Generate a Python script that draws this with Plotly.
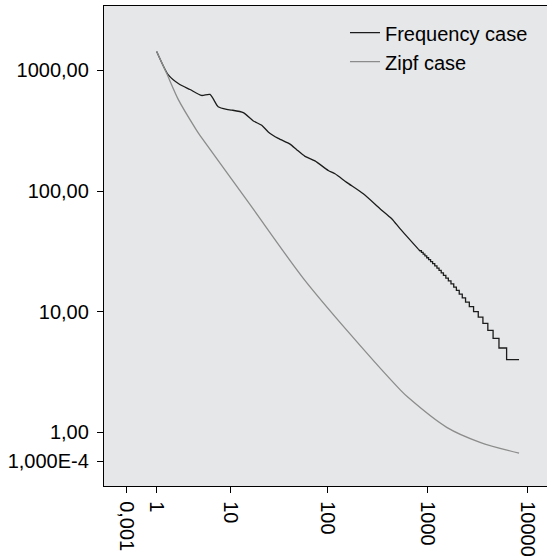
import plotly.graph_objects as go

# ---- data ----
# Frequency case: smooth head (rank, frequency)
freq_head_rank = [1, 1.6, 2.4, 3.3, 4.6, 5.8, 7.2, 9.0, 10.2, 13.6, 17.4, 21.3, 24.9, 31.6,
                  41.7, 48.8, 59.2, 74.7, 101.8, 118.9, 155.8, 228.5, 335.8, 439.6, 531.9, 810]
freq_head_value = [1436, 923, 764, 695, 620, 632, 500, 475, 469, 447, 381, 351, 309, 273,
                   245, 220, 194, 178, 148, 139, 118, 94.8, 71.4, 59.0, 48.8, 33]
# Frequency case: integer-valued tail (first rank holding each frequency)
tail_freq = list(range(32, 3, -1))
tail_first_rank = [838, 871, 906, 943, 984, 1027, 1075, 1126, 1183, 1244, 1305, 1372, 1444,
                   1526, 1616, 1717, 1829, 1944, 2075, 2225, 2399, 2616, 2884, 3212, 3574,
                   4001, 4514, 5167, 6157]
last_rank = 8188

# Zipf case (rank, value)
zipf_rank = [1, 1.52, 2.28, 3.93, 4.40, 16.0, 56.9, 168.1, 531.9, 643.9, 1556, 3343, 8188]
zipf_value = [1436, 941, 575, 325, 290, 77.4, 18.9, 6.54, 2.26, 1.94, 1.10, 0.827, 0.671]

# axis tick labels
x_tick_values = [0.001, 1, 10, 100, 1000, 10000]
x_tick_text = ["0,001", "1", "10", "100", "1000", "10000"]
y_tick_values = [1000, 100, 10, 1, 0.577]
y_tick_text = ["1000,00", "100,00", "10,00", "1,00", "1,000E-4"]

# ---- build frequency tail (step) series ----
tx = [freq_head_rank[-1]]
ty = [freq_head_value[-1]]
for i, f in enumerate(tail_freq):
    start = tail_first_rank[i]
    end = tail_first_rank[i + 1] - 1 if i + 1 < len(tail_first_rank) else last_rank
    tx += [start, end]
    ty += [f, f]

# x axis of the original uses a "safe log" scale: log10(1 + x)
def safe(v):
    return [a + 1 for a in v]

FONT = "Liberation Sans, Arial, sans-serif"
FREQ_COLOR = "#1c1c1c"
ZIPF_COLOR = "#8c8c8c"

fig = go.Figure()
fig.add_trace(go.Scatter(x=safe(freq_head_rank), y=freq_head_value, mode="lines",
                         name="Frequency case", legendgroup="freq",
                         line=dict(color=FREQ_COLOR, width=1.3, shape="spline", smoothing=0.6)))
fig.add_trace(go.Scatter(x=safe(tx), y=ty, mode="lines", name="Frequency case",
                         legendgroup="freq", showlegend=False,
                         line=dict(color=FREQ_COLOR, width=1.3)))
fig.add_trace(go.Scatter(x=safe(zipf_rank), y=zipf_value, mode="lines", name="Zipf case",
                         line=dict(color=ZIPF_COLOR, width=1.3, shape="spline", smoothing=0.8)))

fig.update_layout(
    width=547, height=557,
    margin=dict(l=104, r=0, t=6, b=68),
    paper_bgcolor="white",
    plot_bgcolor="#e6e7e8",
    font=dict(family=FONT, size=20, color="black"),
    showlegend=True,
    legend=dict(x=0.544, y=0.985, xanchor="left", yanchor="top",
                bgcolor="rgba(0,0,0,0)", borderwidth=0,
                font=dict(family=FONT, size=20, color="black"),
                tracegroupgap=0, itemwidth=30),
)
fig.update_xaxes(
    type="log", range=[-0.224, 4.192],
    tickvals=safe(x_tick_values), ticktext=x_tick_text, tickangle=90,
    showgrid=False, zeroline=False,
    showline=True, linecolor="black", linewidth=1.3, mirror=True,
    ticks="outside", ticklen=6, tickcolor="black", tickwidth=1.3,
    ticklabelstandoff=4,
    tickfont=dict(family=FONT, size=20, color="black"),
)
fig.update_yaxes(
    type="log", range=[-0.445, 3.534],
    tickvals=y_tick_values, ticktext=y_tick_text,
    showgrid=False, zeroline=False,
    showline=True, linecolor="black", linewidth=1.3,
    ticks="outside", ticklen=6, tickcolor="black", tickwidth=1.3,
    ticklabelstandoff=4,
    tickfont=dict(family=FONT, size=20, color="black"),
)

fig.write_html("out.html", config={"displayModeBar": False},
               post_script="document.body.style.margin='0';document.body.style.padding='0';")
